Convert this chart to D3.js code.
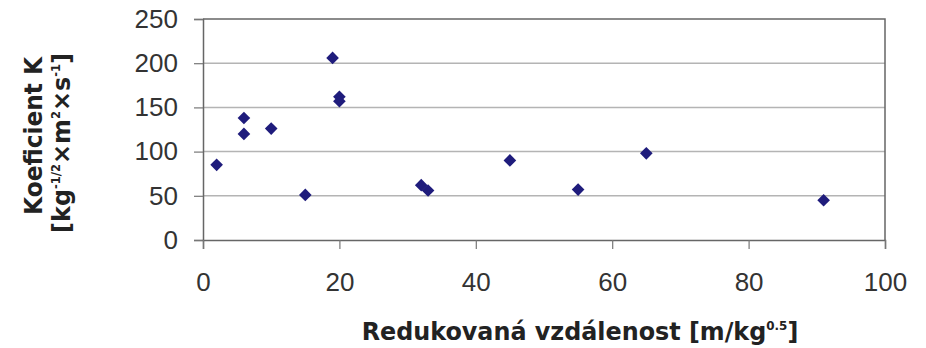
<!DOCTYPE html>
<html>
<head>
<meta charset="utf-8">
<script src="https://cdn.jsdelivr.net/npm/d3@7"></script>
<style>
  html, body { margin: 0; padding: 0; background: #fff; }
  svg { display: block; }
</style>
</head>
<body>
<svg id="chart" width="926" height="348"></svg>
<script>
// Reduced distance [m/kg^0.5] and coefficient K for each measurement
const distance = [2, 6, 6, 10, 15, 19, 20, 20, 32, 33, 45, 55, 65, 91];
const coefK    = [85, 138, 120, 126, 51, 206, 162, 157, 62, 56, 90, 57, 98, 45];
const xTicks = [0, 20, 40, 60, 80, 100];
const yTicks = [0, 50, 100, 150, 200, 250];

(function draw() {
  const svg = d3.select("#chart");
  const plotL = 203, plotR = 885, plotT = 19, plotB = 240;

  const x = d3.scaleLinear().domain([0, 100]).range([plotL, plotR]);
  const y = d3.scaleLinear().domain([0, 250]).range([plotB, plotT]);

  // horizontal gridlines
  svg.append("g")
    .selectAll("line")
    .data(yTicks.filter(d => d > 0 && d < 250))
    .join("line")
    .attr("x1", plotL).attr("x2", plotR)
    .attr("y1", d => y(d)).attr("y2", d => y(d))
    .attr("stroke", "#b4b4b4").attr("stroke-width", 1.5);

  // plot frame (top and right)
  svg.append("path")
    .attr("d", `M${plotL},${plotT}H${plotR}V${plotB}`)
    .attr("fill", "none").attr("stroke", "#666").attr("stroke-width", 1.5);

  const tickFont = "'Liberation Sans', Arial, sans-serif";

  const yAxis = svg.append("g")
    .attr("transform", `translate(${plotL},0)`)
    .call(d3.axisLeft(y).tickValues(yTicks).tickSize(9).tickPadding(16));
  const xAxis = svg.append("g")
    .attr("transform", `translate(0,${plotB})`)
    .call(d3.axisBottom(x).tickValues(xTicks).tickSize(9).tickPadding(24));

  [yAxis, xAxis].forEach(g => {
    g.select(".domain").attr("stroke", "#666").attr("stroke-width", 1.5);
    g.selectAll(".tick line").attr("stroke", "#777").attr("stroke-width", 1.2);
    g.selectAll(".tick text")
      .attr("fill", "#333")
      .style("font-family", tickFont)
      .style("font-size", "26px");
  });

  // data markers (diamonds)
  const diamond = d3.symbol().type(d3.symbolSquare).size(80);
  svg.append("g")
    .selectAll("path")
    .data(distance.map((d, i) => [d, coefK[i]]))
    .join("path")
    .attr("d", diamond)
    .attr("transform", d => `translate(${x(d[0])},${y(d[1])}) rotate(45)`)
    .attr("fill", "#1f1c7c");

  // axis titles: bold, squeezed horizontally to a target run length
  const titleFont = "'DejaVu Sans', Verdana, sans-serif";

  function fitText(textSel, length) {
    const w = textSel.node().getComputedTextLength();
    return length / w;
  }

  // x title
  const xg = svg.append("g");
  const xt = xg.append("text")
    .attr("x", 0).attr("y", 0)
    .attr("text-anchor", "middle")
    .style("font-family", titleFont)
    .style("font-weight", "bold")
    .style("font-size", "24px")
    .attr("fill", "#222");
  xt.append("tspan").text("Redukovaná vzdálenost [m/kg");
  xt.append("tspan").attr("dy", -10).style("font-size", "12px").text("0.5");
  xt.append("tspan").attr("dy", 10).text("]");
  const sx = fitText(xt, 437);
  xg.attr("transform", `translate(580,340) scale(${sx},1)`);

  // y title, two lines
  function supText(parent, parts) {
    const t = parent.append("text")
      .attr("text-anchor", "middle")
      .style("font-family", titleFont)
      .style("font-weight", "bold")
      .style("font-size", "25px")
      .attr("fill", "#222");
    let up = false;
    parts.forEach(p => {
      const sup = typeof p !== "string";
      const s = t.append("tspan").text(sup ? p.sup : p);
      if (sup) { s.attr("dy", -10).style("font-size", "12px"); up = true; }
      else if (up) { s.attr("dy", 10); up = false; }
    });
    return t;
  }

  const yg1 = svg.append("g");
  const t1 = supText(yg1, ["Koeficient K"]);
  const s1 = fitText(t1, 158);
  yg1.attr("transform", `translate(42,136) rotate(-90) scale(${s1},1)`);

  const yg2 = svg.append("g");
  const t2 = supText(yg2, ["[kg", {sup: "-1/2"}, "×m", {sup: "2"}, "×s", {sup: "-1"}, "]"]);
  const s2 = fitText(t2, 180);
  yg2.attr("transform", `translate(70,143) rotate(-90) scale(${s2},1)`);
})();
</script>
</body>
</html>
